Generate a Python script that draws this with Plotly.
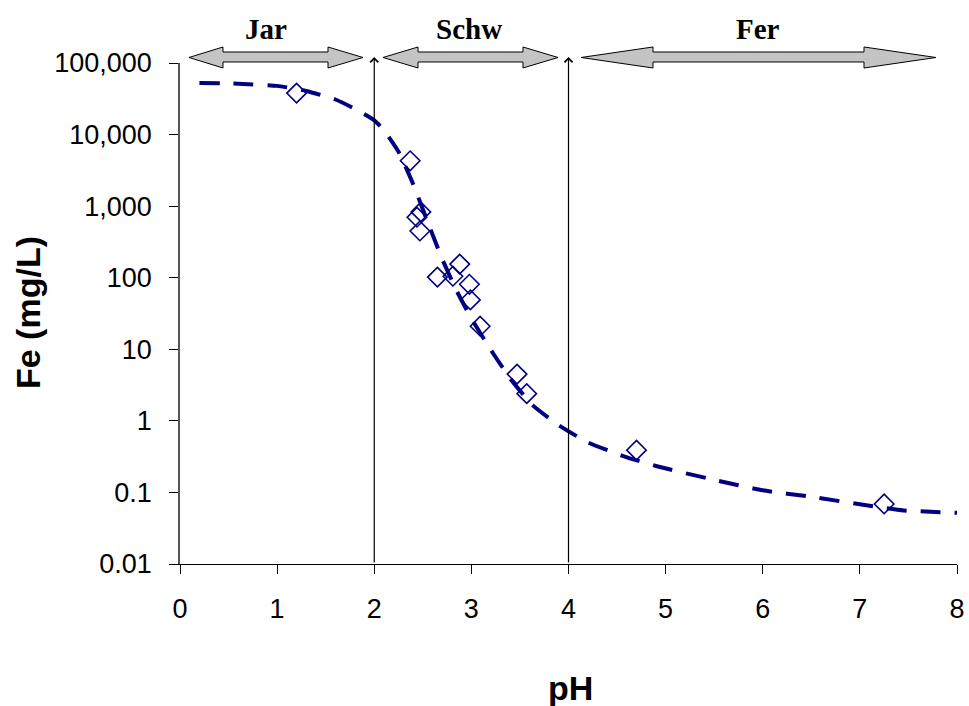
import plotly.graph_objects as go

# ---------------- data ----------------
ph_obs = [1.20, 2.37, 2.44, 2.48, 2.47, 2.65, 2.81, 2.88, 2.98, 2.99, 3.09, 3.47, 3.57, 4.70, 7.25]
fe_obs = [38000, 4300, 700, 830, 450, 102, 105, 155, 81, 49, 21, 4.5, 2.4, 0.39, 0.069]

ph_fit = [0.2, 0.6, 1.0, 1.3, 1.6, 1.8, 2.0, 2.1, 2.25, 2.4, 2.55, 2.7, 2.85, 3.0,
          3.2, 3.4, 3.63, 3.9, 4.2, 4.57, 4.92, 5.5, 6.0, 6.5, 7.1, 7.45, 8.0]
fe_fit = [52500, 51300, 47900, 40700, 30900, 22900, 15800, 11500, 5750, 2040, 600, 182,
          65, 27, 9.8, 3.9, 1.66, 0.87, 0.50, 0.32, 0.23, 0.15, 0.107, 0.087, 0.065,
          0.056, 0.052]

y_tickvals = [0.01, 0.1, 1, 10, 100, 1000, 10000, 100000]
y_ticktext = ["0.01", "0.1", "1", "10", "100", "1,000", "10,000", "100,000"]
x_tickvals = [0, 1, 2, 3, 4, 5, 6, 7, 8]

region_names = ["Jar", "Schw", "Fer"]
boundaries = [2, 4]

NAVY = "#000080"

# ---------------- layout geometry ----------------
W, H = 969, 706
L, R, T, B = 180, 957, 63, 564


def xp(px):
    return (px - L) / (R - L)


def yp(py):
    return (B - py) / (B - T)


fig = go.Figure()

fig.add_trace(go.Scatter(
    x=ph_fit, y=fe_fit, mode="lines",
    line=dict(color=NAVY, width=4, dash="20px,14px", shape="spline", smoothing=0.5),
    showlegend=False, hoverinfo="skip"))

fig.add_trace(go.Scatter(
    x=ph_obs, y=fe_obs, mode="markers",
    marker=dict(symbol="diamond-open", size=15, color=NAVY, line=dict(color=NAVY, width=1.6)),
    showlegend=False))

annotations = []
shapes = []

# vertical boundary arrows
for b in boundaries:
    annotations.append(dict(
        x=b, xref="x", y=yp(57), yref="paper",
        ax=0, ay=B - 57, axref="pixel", ayref="pixel",
        showarrow=True, arrowhead=4, arrowsize=1.3, arrowwidth=1.2,
        arrowcolor="black", text=""))

# horizontal double block arrows (pixel extents of left tip, head bases, right tip)
arrow_px = [(189, 223, 328, 363), (383, 418, 523, 558), (581, 653, 864, 936)]
label_cx = [266, 469, 758]
y_head_top, y_shaft_top, y_mid, y_shaft_bot, y_head_bot = 47, 52, 57.5, 62, 68
for (a, b1, b2, c), name, cx in zip(arrow_px, region_names, label_cx):
    pts = [(a, y_mid), (b1, y_head_top), (b1, y_shaft_top), (b2, y_shaft_top),
           (b2, y_head_top), (c, y_mid), (b2, y_head_bot), (b2, y_shaft_bot),
           (b1, y_shaft_bot), (b1, y_head_bot)]
    path = "M " + " L ".join(f"{xp(px):.5f},{yp(py):.5f}" for px, py in pts) + " Z"
    shapes.append(dict(type="path", path=path, xref="paper", yref="paper",
                       fillcolor="#c4c4c4", line=dict(color="black", width=1),
                       layer="above"))
    annotations.append(dict(
        x=xp(cx), y=yp(29), xref="paper", yref="paper", text=f"<b>{name}</b>",
        showarrow=False, xanchor="center", yanchor="middle",
        font=dict(family="Liberation Serif, Times New Roman, serif", size=29, color="black")))

# axis titles
annotations.append(dict(
    x=xp(570), y=yp(688), xref="paper", yref="paper", text="<b>pH</b>",
    showarrow=False, xanchor="center", yanchor="middle",
    font=dict(family="Liberation Sans, Arial, sans-serif", size=34, color="black")))
annotations.append(dict(
    x=xp(28), y=yp(313), xref="paper", yref="paper", text="<b>Fe (mg/L)</b>",
    showarrow=False, xanchor="center", yanchor="middle", textangle=-90,
    font=dict(family="Liberation Sans, Arial, sans-serif", size=34, color="black")))

tickfont = dict(family="Liberation Sans, Arial, sans-serif", size=27, color="black")

fig.update_layout(
    width=W, height=H,
    margin=dict(l=L, r=W - R, t=T, b=H - B, pad=0, autoexpand=False),
    paper_bgcolor="white", plot_bgcolor="white",
    showlegend=False,
    annotations=annotations, shapes=shapes,
    xaxis=dict(range=[0, 8], tickvals=x_tickvals, ticks="outside", ticklen=9,
               tickcolor="black", tickwidth=1, showgrid=False, zeroline=False,
               showline=True, linecolor="black", linewidth=1, automargin=False,
               tickfont=tickfont, ticklabelstandoff=12),
    yaxis=dict(type="log", range=[-2, 5], tickvals=y_tickvals, ticktext=y_ticktext,
               ticks="outside", ticklen=9, tickcolor="black", tickwidth=1,
               showgrid=False, zeroline=False, showline=True, linecolor="#555555",
               linewidth=1.5, tickfont=tickfont, ticklabelstandoff=12, automargin=False),
)

fig.write_html("out.html")
